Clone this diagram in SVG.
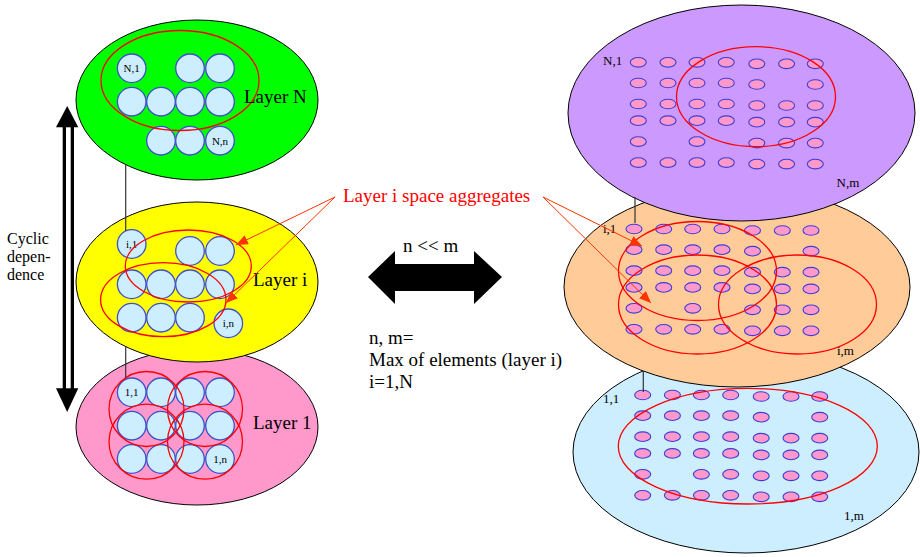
<svg xmlns="http://www.w3.org/2000/svg" xmlns:xlink="http://www.w3.org/1999/xlink" width="920" height="557" viewBox="0 0 920 557">
  <style>
    .layer { stroke: #000; stroke-width: 1; }
    .el { fill: #cceeff; stroke: #3d4fc9; stroke-width: 1.3; }
    .dot { fill: #ff99cc; stroke: #3d3dd6; stroke-width: 1.1; }
    .agg { fill: none; stroke: #ff0000; stroke-width: 1.3; }
    .lbl { font-family: "Liberation Serif", "Times New Roman", serif; fill: #000; }
    .big { font-size: 19px; }
    .small { font-size: 13px; }
    .tiny { font-size: 11px; text-anchor: middle; }
    .ptr { stroke: #ff3300; stroke-width: 1; fill: none; }
    .tie { stroke: #333; stroke-width: 1.2; }
  </style>
  <defs>
    <marker id="redhead" viewBox="0 0 12 10" refX="12" refY="5" markerWidth="12" markerHeight="10" orient="auto" markerUnits="userSpaceOnUse">
      <path d="M0,0 L12,5 L0,10 z" fill="#ff3300"/>
    </marker>
    <!-- element grid shared by the three spatial layers -->
    <g id="dotgrid">
      <!-- row 1 -->
      <ellipse class="dot" cx="0" cy="0" rx="8" ry="4.8"/>
      <ellipse class="dot" cx="29.7" cy="0" rx="8" ry="4.8"/>
      <ellipse class="dot" cx="58.7" cy="0" rx="8" ry="4.8"/>
      <ellipse class="dot" cx="88" cy="0" rx="8" ry="4.8"/>
      <ellipse class="dot" cx="118.5" cy="1.5" rx="8" ry="4.8"/>
      <ellipse class="dot" cx="148.3" cy="1.5" rx="8" ry="4.8"/>
      <ellipse class="dot" cx="177" cy="1.5" rx="8" ry="4.8"/>
      <!-- row 2 -->
      <ellipse class="dot" cx="0" cy="20.7" rx="8" ry="4.8"/>
      <ellipse class="dot" cx="29.7" cy="20.7" rx="8" ry="4.8"/>
      <ellipse class="dot" cx="58.7" cy="20.7" rx="8" ry="4.8"/>
      <ellipse class="dot" cx="88" cy="20.7" rx="8" ry="4.8"/>
      <ellipse class="dot" cx="118.5" cy="22.2" rx="8" ry="4.8"/>
      <ellipse class="dot" cx="177" cy="22.2" rx="8" ry="4.8"/>
      <!-- row 3 -->
      <ellipse class="dot" cx="0" cy="41.7" rx="8" ry="4.8"/>
      <ellipse class="dot" cx="29.7" cy="41.7" rx="8" ry="4.8"/>
      <ellipse class="dot" cx="58.7" cy="41.7" rx="8" ry="4.8"/>
      <ellipse class="dot" cx="88" cy="41.7" rx="8" ry="4.8"/>
      <ellipse class="dot" cx="118.5" cy="43.2" rx="8" ry="4.8"/>
      <ellipse class="dot" cx="148.3" cy="43.2" rx="8" ry="4.8"/>
      <ellipse class="dot" cx="177" cy="43.2" rx="8" ry="4.8"/>
      <!-- row 4 -->
      <ellipse class="dot" cx="0" cy="58.4" rx="8" ry="4.8"/>
      <ellipse class="dot" cx="29.7" cy="58.4" rx="8" ry="4.8"/>
      <ellipse class="dot" cx="58.7" cy="58.4" rx="8" ry="4.8"/>
      <ellipse class="dot" cx="88" cy="58.4" rx="8" ry="4.8"/>
      <ellipse class="dot" cx="118.5" cy="59.9" rx="8" ry="4.8"/>
      <ellipse class="dot" cx="148.3" cy="59.9" rx="8" ry="4.8"/>
      <ellipse class="dot" cx="177" cy="59.9" rx="8" ry="4.8"/>
      <!-- row 5 -->
      <ellipse class="dot" cx="0" cy="79.3" rx="8" ry="4.8"/>
      <ellipse class="dot" cx="58.7" cy="79.3" rx="8" ry="4.8"/>
      <ellipse class="dot" cx="118.5" cy="80.8" rx="8" ry="4.8"/>
      <ellipse class="dot" cx="148.3" cy="80.8" rx="8" ry="4.8"/>
      <ellipse class="dot" cx="177" cy="80.8" rx="8" ry="4.8"/>
      <!-- row 6 -->
      <ellipse class="dot" cx="0" cy="100.3" rx="8" ry="4.8"/>
      <ellipse class="dot" cx="29.7" cy="100.3" rx="8" ry="4.8"/>
      <ellipse class="dot" cx="58.7" cy="100.3" rx="8" ry="4.8"/>
      <ellipse class="dot" cx="88" cy="100.3" rx="8" ry="4.8"/>
      <ellipse class="dot" cx="118.5" cy="101.8" rx="8" ry="4.8"/>
      <ellipse class="dot" cx="148.3" cy="101.8" rx="8" ry="4.8"/>
      <ellipse class="dot" cx="177" cy="101.8" rx="8" ry="4.8"/>
    </g>
  </defs>

  <rect width="920" height="557" fill="#ffffff"/>

  <!-- ===== Left: element layers ===== -->
  <g id="layer-1">
    <ellipse class="layer" cx="197" cy="427" rx="121" ry="78" fill="#ff99cc"/>
    <circle class="el" cx="131.7" cy="392.3" r="14.3"/>
    <circle class="el" cx="161" cy="392.3" r="14.3"/>
    <circle class="el" cx="190" cy="392.3" r="14.3"/>
    <circle class="el" cx="220" cy="392.3" r="14.3"/>
    <circle class="el" cx="131.7" cy="425.7" r="14.3"/>
    <circle class="el" cx="161" cy="425.7" r="14.3"/>
    <circle class="el" cx="190" cy="425.7" r="14.3"/>
    <circle class="el" cx="220" cy="425.7" r="14.3"/>
    <circle class="el" cx="131.7" cy="459" r="14.3"/>
    <circle class="el" cx="161" cy="459" r="14.3"/>
    <circle class="el" cx="190" cy="459" r="14.3"/>
    <circle class="el" cx="220" cy="459" r="14.3"/>
    <text class="lbl tiny" x="131.7" y="396">1,1</text>
    <text class="lbl tiny" x="220" y="463">1,n</text>
    <circle class="agg" cx="146.5" cy="409" r="37.5"/>
    <circle class="agg" cx="205" cy="409" r="37.5"/>
    <circle class="agg" cx="146.5" cy="441.7" r="37.5"/>
    <circle class="agg" cx="205" cy="441.7" r="37.5"/>
    <text class="lbl big" x="253" y="429">Layer 1</text>
  </g>

  <g id="layer-i">
    <ellipse class="layer" cx="197" cy="282" rx="121" ry="80" fill="#ffff00"/>
    <circle class="el" cx="131.7" cy="244" r="14.3"/>
    <circle class="el" cx="190" cy="251" r="14.3"/>
    <circle class="el" cx="220" cy="251" r="14.3"/>
    <circle class="el" cx="131.7" cy="284.3" r="14.3"/>
    <circle class="el" cx="161" cy="284.3" r="14.3"/>
    <circle class="el" cx="190" cy="284.3" r="14.3"/>
    <circle class="el" cx="220" cy="284.3" r="14.3"/>
    <circle class="el" cx="131.7" cy="317.7" r="14.3"/>
    <circle class="el" cx="161" cy="317.7" r="14.3"/>
    <circle class="el" cx="190" cy="317.7" r="14.3"/>
    <circle class="el" cx="228.3" cy="323.3" r="14.3"/>
    <text class="lbl tiny" x="131.7" y="248">i,1</text>
    <text class="lbl tiny" x="228.3" y="327">i,n</text>
    <ellipse class="agg" cx="188.3" cy="266" rx="63" ry="36"/>
    <ellipse class="agg" cx="163.3" cy="299.7" rx="62.7" ry="37"/>
    <text class="lbl big" x="253" y="286">Layer i</text>
  </g>

  <g id="layer-N">
    <ellipse class="layer" cx="197" cy="100" rx="121" ry="80" fill="#00ff00"/>
    <circle class="el" cx="131.7" cy="68.3" r="14.3"/>
    <circle class="el" cx="190" cy="68.3" r="14.3"/>
    <circle class="el" cx="220" cy="68.3" r="14.3"/>
    <circle class="el" cx="131.7" cy="101.7" r="14.3"/>
    <circle class="el" cx="161" cy="101.7" r="14.3"/>
    <circle class="el" cx="190" cy="101.7" r="14.3"/>
    <circle class="el" cx="220" cy="101.7" r="14.3"/>
    <circle class="el" cx="161" cy="140.7" r="14.3"/>
    <circle class="el" cx="190" cy="140.7" r="14.3"/>
    <circle class="el" cx="220" cy="140.7" r="14.3"/>
    <text class="lbl tiny" x="131.7" y="72">N,1</text>
    <text class="lbl tiny" x="220" y="144.5">N,n</text>
    <ellipse class="agg" cx="180" cy="80.5" rx="79" ry="50"/>
    <text class="lbl big" x="244" y="103">Layer N</text>
  </g>

  <!-- ===== Right: spatial layers ===== -->
  <g id="space-1">
    <ellipse class="layer" cx="746" cy="452" rx="173" ry="101" fill="#cceeff"/>
    <use href="#dotgrid" xlink:href="#dotgrid" transform="translate(642.7,395)"/>
    <ellipse class="dot" cx="730.7" cy="474.3" rx="8" ry="4.8"/>
    <ellipse class="agg" cx="747.8" cy="446.2" rx="129.5" ry="57.8"/>
    <text class="lbl small" x="603" y="403">1,1</text>
    <text class="lbl small" x="844" y="520">1,m</text>
  </g>

  <g id="space-i">
    <ellipse class="layer" cx="737" cy="287" rx="173" ry="100" fill="#ffcc99"/>
    <use href="#dotgrid" xlink:href="#dotgrid" transform="translate(634,229)"/>
    <ellipse class="agg" cx="697.5" cy="271" rx="79" ry="49.5"/>
    <ellipse class="agg" cx="697.5" cy="304.5" rx="79" ry="49.5"/>
    <ellipse class="agg" cx="797.5" cy="304.5" rx="79" ry="49.5"/>
    <text class="lbl small" x="603" y="233">i,1</text>
    <text class="lbl small" x="837" y="355">i,m</text>
  </g>

  <g id="space-N">
    <ellipse class="layer" cx="741.5" cy="113" rx="173.5" ry="108" fill="#cc99ff"/>
    <use href="#dotgrid" xlink:href="#dotgrid" transform="translate(638.3,62.3)"/>
    <ellipse class="agg" cx="756" cy="96.7" rx="79.5" ry="50"/>
    <text class="lbl small" x="603" y="65">N,1</text>
    <text class="lbl small" x="836.5" y="187">N,m</text>
  </g>

  <!-- ===== Connectors ===== -->
  <g id="connectors">
    <!-- ties between first elements of adjacent layers -->
    <line class="tie" x1="125.7" y1="164" x2="125.7" y2="231"/>
    <line class="tie" x1="125.7" y1="346" x2="125.7" y2="378"/>
    <line class="tie" x1="635" y1="197" x2="635" y2="223"/>
    <line class="tie" x1="643.3" y1="371" x2="643.3" y2="392"/>

    <!-- aggregate pointers -->
    <line class="ptr" x1="335" y1="197" x2="236" y2="245" marker-end="url(#redhead)"/>
    <line class="ptr" x1="335" y1="197" x2="226" y2="303" marker-end="url(#redhead)"/>
    <line class="ptr" x1="543" y1="197" x2="642" y2="246" marker-end="url(#redhead)"/>
    <line class="ptr" x1="543" y1="197" x2="651" y2="303" marker-end="url(#redhead)"/>

    <!-- cyclic dependence double arrow -->
    <g id="cyclic-arrow">
      <polygon points="67.2,106 56,127.3 78.3,127.3" fill="#000"/>
      <polygon points="67.2,412 56,388.3 78.3,388.3" fill="#000"/>
      <rect x="62.7" y="127" width="11.3" height="262" fill="#000"/>
      <rect x="66" y="127.3" width="4.7" height="261" fill="#fff"/>
    </g>

    <!-- n << m double arrow -->
    <polygon id="ratio-arrow" points="368,277 395,251 395,264 474,264 474,251 502,277 474,304 474,291 395,291 395,304" fill="#000"/>
  </g>

  <!-- ===== Free text ===== -->
  <g id="notes">
    <text class="lbl" font-size="16" x="7" y="244">Cyclic</text>
    <text class="lbl" font-size="16" x="7" y="262">depen-</text>
    <text class="lbl" font-size="16" x="7" y="280">dence</text>
    <text class="lbl big" x="343" y="202" fill="#ff0000" style="fill:#ff0000">Layer i space aggregates</text>
    <text class="lbl big" x="403" y="252">n &lt;&lt; m</text>
    <text class="lbl big" x="369" y="344">n, m=</text>
    <text class="lbl big" x="369" y="366">Max of elements (layer i)</text>
    <text class="lbl big" x="369" y="388">i=1,N</text>
  </g>
</svg>
